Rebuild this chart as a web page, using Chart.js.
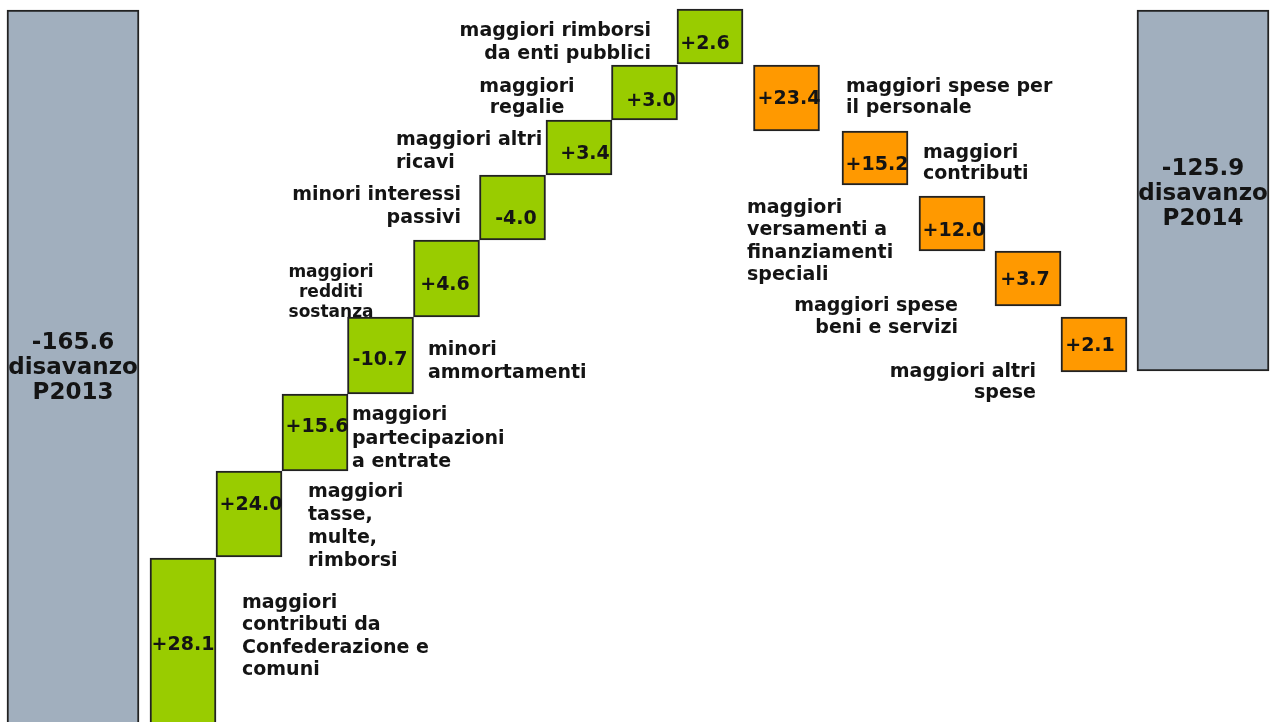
<!DOCTYPE html>
<html><head><meta charset="utf-8">
<script src="https://cdn.jsdelivr.net/npm/chart.js@4"></script>
<style>html,body{margin:0;padding:0;background:#fff;overflow:hidden}#wrap{width:1278px;height:722px;position:relative}</style>
</head><body><div id="wrap"><canvas id="c"></canvas></div>
<script>
// ---- data ----
const categories = ['disavanzo P2013','maggiori contributi da Confederazione e comuni','maggiori tasse, multe, rimborsi','maggiori partecipazioni a entrate','minori ammortamenti','maggiori redditi sostanza','minori interessi passivi','maggiori altri ricavi','maggiori regalie','maggiori rimborsi da enti pubblici','maggiori spese per il personale','maggiori contributi','maggiori versamenti a finanziamenti speciali','maggiori spese beni e servizi','maggiori altri spese','disavanzo P2014'];
const values = [-165.6, 28.1, 24.0, 15.6, -10.7, 4.6, -4.0, 3.4, 3.0, 2.6, 23.4, 15.2, 12.0, 3.7, 2.1, -125.9];
const kinds = ['total','gain','gain','gain','gain','gain','gain','gain','gain','gain','cost','cost','cost','cost','cost','total'];
const totalNames = [['disavanzo','P2013'], null,null,null,null,null,null,null,null,null,null,null,null,null,null, ['disavanzo','P2014']];
// position of each step along the (stylised) horizontal axis
const stepPos = [73,183,249,315,380.5,446.5,512.5,579,644.5,710,786.5,875,952,1028,1094,1203];
// drawn extent of each step on the (stylised) level axis
const barLow  = [0,   0,165,251,328,405,482,547,602,658,591,537,471,416,350,351];
const barHigh = [712,164,251,328,405,482,547,602,657,713,657,591,526,471,405,712];
const descLines = [null,
  ['maggiori','contributi da','Confederazione e','comuni'],
  ['maggiori','tasse,','multe,','rimborsi'],
  ['maggiori','partecipazioni','a entrate'],
  ['minori','ammortamenti'],
  ['maggiori','redditi','sostanza'],
  ['minori interessi','passivi'],
  ['maggiori altri','ricavi'],
  ['maggiori','regalie'],
  ['maggiori rimborsi','da enti pubblici'],
  ['maggiori spese per','il personale'],
  ['maggiori','contributi'],
  ['maggiori','versamenti a','finanziamenti','speciali'],
  ['maggiori spese','beni e servizi'],
  ['maggiori altri','spese'],
  null];

// ---- layout of texts (in axis units) ----
const valueTextX = [73,183,251,317,380,445,516,585,651,705,789,877,954,1025,1090,1203];
const valueTextY = [373,72,212,290,357,432,498,563,616,673,618,552,486,437,371,547];
const descLayout = [null,
  {x:242,y:114,a:'left',s:19,lh:22.3},
  {x:308,y:225,a:'left',s:19,lh:23},
  {x:352,y:302,a:'left',s:19,lh:23.5},
  {x:428,y:367,a:'left',s:19,lh:23},
  {x:331,y:445,a:'center',s:17,lh:20},
  {x:461,y:522,a:'right',s:19,lh:23},
  {x:396,y:577,a:'left',s:19,lh:23},
  {x:527,y:630,a:'center',s:19,lh:21},
  {x:651,y:686,a:'right',s:19,lh:23},
  {x:846,y:630,a:'left',s:19,lh:21},
  {x:923,y:564,a:'left',s:19,lh:21},
  {x:747,y:509,a:'left',s:19,lh:22.3},
  {x:958,y:411,a:'right',s:19,lh:22},
  {x:1036,y:345,a:'right',s:19,lh:21},
  null];

const colors = {total:'#a1afbe', gain:'#99cc00', cost:'#ff9900'};
const widths = {total:132, gain:66, cost:66};
const FONT = '"DejaVu Sans", Verdana, sans-serif';
const fmt = v => (v > 0 ? '+' : '') + v.toFixed(1);

function makeDataset(kind){
  const data = [];
  categories.forEach((c,i) => { if (kinds[i] === kind) data.push({x: stepPos[i], y: [barLow[i], barHigh[i]], idx: i}); });
  return {
    label: kind, data,
    backgroundColor: colors[kind],
    borderColor: '#222',
    borderWidth: 2,
    borderSkipped: ctx => (ctx.raw && ctx.raw.y[0] === 0) ? 'bottom' : false,
    barThickness: widths[kind],
    grouped: false
  };
}

const textPlugin = {
  id: 'texts',
  afterDatasetsDraw(chart){
    const {ctx, scales:{x, y}} = chart;
    ctx.save();
    ctx.fillStyle = '#141414';
    ctx.textBaseline = 'alphabetic';
    values.forEach((v,i) => {
      const px = x.getPixelForValue(valueTextX[i]);
      if (kinds[i] === 'total') {
        ctx.font = 'bold 23px ' + FONT;
        ctx.textAlign = 'center';
        const lines = [fmt(v)].concat(totalNames[i]);
        lines.forEach((t,k) => ctx.fillText(t, px, y.getPixelForValue(valueTextY[i] - k*25)));
      } else {
        ctx.font = 'bold 19px ' + FONT;
        ctx.textAlign = 'center';
        ctx.fillText(fmt(v), px, y.getPixelForValue(valueTextY[i]));
        const L = descLayout[i];
        ctx.font = 'bold ' + L.s + 'px ' + FONT;
        ctx.textAlign = L.a;
        descLines[i].forEach((t,k) => ctx.fillText(t, x.getPixelForValue(L.x), y.getPixelForValue(L.y - k*L.lh)));
      }
    });
    ctx.restore();
  }
};

new Chart(document.getElementById('c'), {
  type: 'bar',
  data: { datasets: [makeDataset('total'), makeDataset('gain'), makeDataset('cost')] },
  options: {
    responsive: true, maintainAspectRatio: false, animation: false,
    layout: { padding: 0 },
    plugins: { legend: {display:false}, tooltip: {enabled:false} },
    scales: {
      x: { type:'linear', min:0, max:1278, offset:false, display:false },
      y: { type:'linear', min:0, max:722, display:false }
    }
  },
  plugins: [textPlugin]
});
</script></body></html>
